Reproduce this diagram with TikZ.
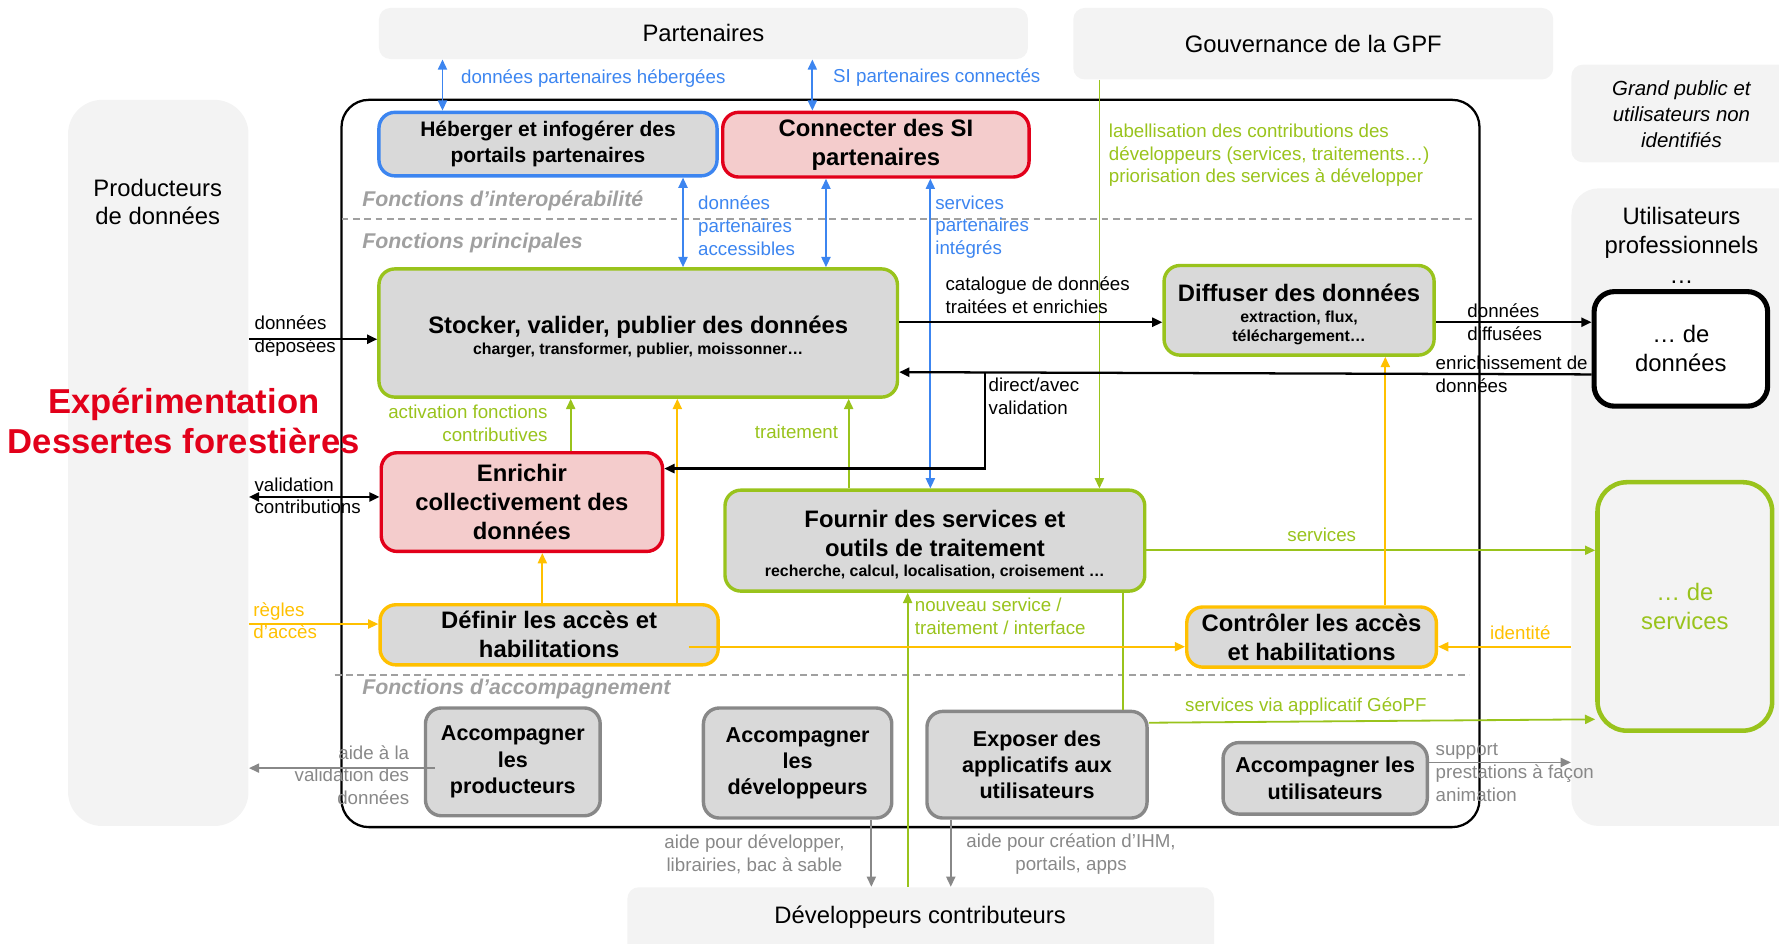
\documentclass[tikz,border=0pt]{standalone}
\usepackage{fontspec}
\setmainfont{Liberation Sans}
\usetikzlibrary{arrows.meta}

\definecolor{gpfblue}{HTML}{3C85F0}
\definecolor{gpfred}{HTML}{E2001A}
\definecolor{gpfpink}{HTML}{F4CCCC}
\definecolor{gpfgreen}{HTML}{99C31C}
\definecolor{gpfyellow}{HTML}{FFC000}
\definecolor{boxgray}{HTML}{D9D9D9}
\definecolor{panelgray}{HTML}{F3F3F3}
\definecolor{secgray}{HTML}{A0A0A0}
\definecolor{linegray}{HTML}{888888}

\newcommand{\gpfbig}{\fontsize{10.5}{12.75}\selectfont}
\newcommand{\gpfmid}{\fontsize{9.25}{11.5}\selectfont}
\newcommand{\gpfacc}{\fontsize{9.5}{11.5}\selectfont}
\newcommand{\gpflbl}{\fontsize{8.25}{10}\selectfont}
\newcommand{\gpfsub}{\fontsize{7}{8.5}\selectfont}

\begin{document}
\begin{tikzpicture}[x=0.5pt, y=-0.5pt,
    panel/.style={fill=panelgray, draw=none, rounded corners=5pt, inner sep=0pt},
    box/.style={draw, fill=boxgray, rounded corners=7pt, line width=1.5pt, align=center, inner sep=0pt, font=\gpfbig\bfseries},
    bluebox/.style={box, draw=gpfblue, font=\gpfmid\bfseries},
    redbox/.style={box, draw=gpfred, fill=gpfpink},
    greenbox/.style={box, draw=gpfgreen},
    yellowbox/.style={box, draw=gpfyellow},
    graybox/.style={box, draw=linegray, font=\gpfacc\bfseries},
    lbl/.style={font=\gpflbl, align=left, inner sep=0pt, yshift=-1pt},
    sec/.style={font=\fontsize{9.4}{11}\selectfont\bfseries\itshape, text=secgray, anchor=west, inner sep=0pt},
    sepline/.style={draw=secgray, line width=1pt, dash pattern=on 3pt off 2pt},
    arr/.style={-{Triangle[length=4.5pt,width=4pt]}, line width=0.8pt},
    biarr/.style={{Triangle[length=4.5pt,width=4pt]}-{Triangle[length=4.5pt,width=4pt]}, line width=0.8pt},
    ]
    \clip (0,0) rectangle (1568,832);

    %Panels
    \node[panel, minimum width=286pt, minimum height=22.5pt, font=\gpfbig] at (620,29.5) (par) {Partenaires};
    \node[panel, minimum width=211.5pt, minimum height=31.5pt, font=\gpfbig] at (1157.5,38.5) (gov) {Gouvernance de la GPF};
    \node[panel, rounded corners=15pt, minimum width=79.5pt, minimum height=320pt] at (139.5,408) (pro) {};
    \node[panel, minimum width=107.5pt, minimum height=43pt] at (1492.5,100) (gpu) {};
    \node[panel, rounded corners=12pt, minimum width=107.5pt, minimum height=281pt] at (1492.5,447) (upr) {};
    \node[panel, minimum width=258.5pt, minimum height=39pt] at (811.5,821) (dev) {};
    \node[font=\gpfbig] at (811,808) (devt) {Développeurs contributeurs};
    \node[font=\gpfbig, align=center, inner sep=0pt] at (139,178) (prot) {Producteurs\\de données};
    \node[font=\fontsize{9}{11.5}\selectfont\itshape, align=center, inner sep=0pt] at (1482,101) (gput) {Grand public et\\utilisateurs non\\identifiés};
    \node[font=\fontsize{10.5}{13}\selectfont, align=center, inner sep=0pt] at (1482,216) (uprt) {Utilisateurs\\professionnels\\…};

    %Frame
    \draw[line width=1pt, rounded corners=12pt] (301,88) rectangle (1304,729);
    \draw[sepline] (301,193) -- (1300,193);
    \draw[sepline] (295,595) -- (1295,595);
    \node[sec] at (319,177) (s1) {Fonctions d’interopérabilité};
    \node[sec] at (319,214) (s2) {Fonctions principales};
    \node[sec] at (319,607) (s3) {Fonctions d’accompagnement};

    %Nodes
    \node[bluebox, minimum width=149pt, minimum height=28pt, yshift=-1pt] at (483,125) (heb) {Héberger et infogérer des\\portails partenaires};
    \node[redbox, minimum width=135pt, minimum height=28.5pt, yshift=-1pt] at (772,125.5) (con) {Connecter des SI\\partenaires};
    \node[greenbox, minimum width=228.5pt, minimum height=56.5pt] at (562.5,293.5) (stk) {};
    \node[font=\gpfbig\bfseries, align=center, inner sep=0pt] at (562.5,297) (stkt) {Stocker, valider, publier des données\\[-3.5pt]\gpfsub charger, transformer, publier, moissonner…};
    \node[greenbox, minimum width=119pt, minimum height=39.5pt] at (1145,273.5) (dif) {};
    \node[font=\gpfbig\bfseries, align=center, inner sep=0pt] at (1145,277) (dift) {Diffuser des données\\[-3.5pt]\gpfsub extraction, flux,\\[-4.5pt]\gpfsub téléchargement…};
    \node[redbox, minimum width=124pt, minimum height=43.5pt] at (460,442.5) (enr) {Enrichir\\collectivement des\\données};
    \node[greenbox, minimum width=185pt, minimum height=44.5pt] at (824,476.5) (fou) {};
    \node[font=\gpfbig\bfseries, align=center, inner sep=0pt] at (824,480) (fout) {Fournir des services et\\outils de traitement\\[-4pt]\gpfsub recherche, calcul, localisation, croisement …};
    \node[yellowbox, minimum width=149pt, minimum height=26.5pt] at (484,559.5) (def) {Définir les accès et\\habilitations};
    \node[yellowbox, minimum width=110pt, minimum height=26.5pt] at (1156,561.5) (ctl) {Contrôler les accès\\et habilitations};
    \node[graybox, minimum width=77pt, minimum height=47.5pt] at (452,671.5) (apr) {Accompagner\\les\\producteurs};
    \node[graybox, minimum width=83pt, minimum height=48.5pt] at (703,672.5) (adv) {Accompagner\\les\\développeurs};
    \node[graybox, minimum width=97pt, minimum height=47pt] at (914,674) (exp) {Exposer des\\applicatifs aux\\utilisateurs};
    \node[graybox, minimum width=90pt, minimum height=31.5pt] at (1168,686) (aut) {Accompagner les\\utilisateurs};
    \node[box, fill=white, line width=2.25pt, rounded corners=9pt, font=\gpfbig, minimum width=76.5pt, minimum height=50.5pt] at (1481.5,307.5) (ddo) {… de\\données};
    \node[box, draw=gpfgreen, fill=none, line width=2pt, rounded corners=13pt, font=\gpfbig, text=gpfgreen, minimum width=77pt, minimum height=109.5pt] at (1485,534.5) (dse) {… de\\services};

    \node[font=\fontsize{15.25}{18}\selectfont\bfseries, text=gpfred, align=center, inner sep=0pt] at (162,371) (exp0) {Expérimentation\\Dessertes forestières};

    %Blue lines
    \draw[biarr, gpfblue] (par.south -| 390,0) -- (heb.north -| 390,0);
    \draw[biarr, gpfblue] (par.south -| 716,0) -- (con.north -| 716,0);
    \draw[biarr, gpfblue] (heb.south -| 602,0) -- (stk.north -| 602,0);
    \draw[biarr, gpfblue] (con.south -| 728,0) -- (stk.north -| 728,0);
    \draw[biarr, gpfblue] (con.south -| 820,0) -- (fou.north -| 820,0);
    \node[lbl, text=gpfblue, anchor=west] at (406,67) (l1) {données partenaires hébergées};
    \node[lbl, text=gpfblue, anchor=west] at (734,66) (l2) {SI partenaires connectés};
    \node[lbl, text=gpfblue, anchor=west] at (615,197) (l3) {données\\partenaires\\accessibles};
    \node[lbl, text=gpfblue, anchor=west] at (824,198) (l4) {services\\partenaires\\intégrés};

    %Green lines
    \draw[arr, gpfgreen] (gov.south -| 969,0) -- (fou.north -| 969,0);
    \draw[arr, gpfgreen] (enr.north -| 503,0) -- (stk.south -| 503,0);
    \draw[arr, gpfgreen] (fou.north -| 748,0) -- (stk.south -| 748,0);
    \draw[arr, gpfgreen] (fou.east |- 0,485) -- (dse.west |- 0,485);
    \draw[arr, gpfgreen] (exp.east |- 0,637) -- (dse.west |- 0,634);
    \draw[line width=0.8pt, gpfgreen] (fou.south -| 990,0) -- (exp.north -| 990,0);
    \draw[arr, gpfgreen] (dev.north -| 800,0) -- (fou.south -| 800,0);
    \node[lbl, text=gpfgreen, anchor=west] at (977,135) (l5) {labellisation des contributions des\\développeurs (services, traitements…)\\priorisation des services à développer};
    \node[lbl, text=gpfgreen, anchor=east, align=right] at (483,371) (l6) {activation fonctions\\contributives};
    \node[lbl, text=gpfgreen] at (702,379) (l7) {traitement};
    \node[lbl, text=gpfgreen] at (1165,469) (l8) {services};
    \node[lbl, text=gpfgreen] at (1151,621) (l9) {services via applicatif GéoPF};
    \node[lbl, text=gpfgreen, anchor=west] at (806,541) (l10) {nouveau service /\\traitement / interface};

    %Yellow lines
    \draw[arr, gpfyellow] (def.north -| 478,0) -- (enr.south -| 478,0);
    \draw[arr, gpfyellow] (def.north -| 597,0) -- (stk.south -| 597,0);
    \draw[arr, gpfyellow] (607,570) -- (ctl.west |- 0,570);
    \draw[arr, gpfyellow] (ctl.north -| 1221,0) -- (dif.south -| 1221,0);
    \draw[arr, gpfyellow] (upr.west |- 0,570) -- (ctl.east |- 0,570);
    \draw[arr, gpfyellow] (pro.east |- 0,550) -- (def.west |- 0,550);
    \node[lbl, text=gpfyellow] at (1340,556) (l11) {identité};
    \node[lbl, text=gpfyellow, anchor=west] at (223,545) (l12) {règles\\d’accès};

    %Black lines
    \draw[arr, line width=1pt] (pro.east |- 0,299) -- (stk.west |- 0,299);
    \draw[biarr, line width=1pt] (pro.east |- 0,438) -- (enr.west |- 0,438);
    \draw[arr, line width=1pt] (stk.east |- 0,284) -- (dif.west |- 0,284);
    \draw[arr, line width=1pt] (dif.east |- 0,284) -- (ddo.west |- 0,284);
    \draw[arr, line width=1pt] (ddo.west |- 0,330) -- (stk.east |- 0,328);
    \draw[arr, line width=1pt] (868,328) |- (enr.east |- 0,413);
    \node[lbl, anchor=west] at (224,294) (l13) {données\\déposées};
    \node[lbl, anchor=west] at (224,435) (l14) {validation\\contributions};
    \node[lbl, anchor=west] at (833,258) (l15) {catalogue de données\\traitées et enrichies};
    \node[lbl, anchor=west] at (1293,282) (l16) {données\\diffusées};
    \node[lbl, anchor=west] at (1265,328) (l17) {enrichissement de\\données};
    \node[lbl, anchor=west] at (871,347) (l18) {direct/avec\\validation};

    %Gray lines
    \draw[arr, linegray] (383,677) -- (pro.east |- 0,677);
    \draw[arr, linegray] (adv.south -| 768,0) -- (dev.north -| 768,0);
    \draw[arr, linegray] (exp.south -| 838,0) -- (dev.north -| 838,0);
    \draw[arr, linegray] (aut.east |- 0,672) -- (upr.west |- 0,672);
    \node[lbl, text=linegray, anchor=east, align=right] at (361,681) (l19) {aide à la\\validation des\\données};
    \node[lbl, text=linegray, align=center] at (665,751) (l20) {aide pour développer,\\librairies, bac à sable};
    \node[lbl, text=linegray, align=center] at (944,751) (l21) {aide pour création d’IHM,\\portails, apps};
    \node[lbl, text=linegray, anchor=west] at (1265,679) (l22) {support\\prestations à façon\\animation};
\end{tikzpicture}
\end{document}
